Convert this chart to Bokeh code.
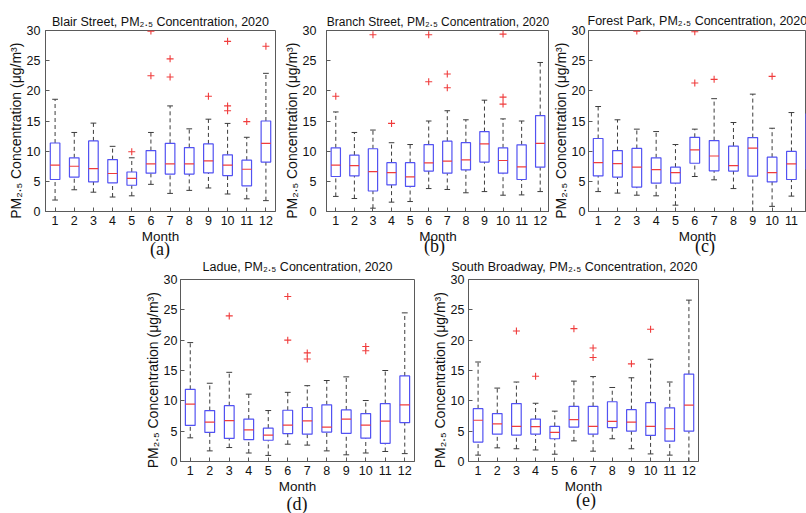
from bokeh.plotting import figure
from bokeh.layouts import row, column, Spacer
from bokeh.models import ColumnDataSource, FixedTicker, Title, Range1d, Div
from bokeh.transform import dodge
from bokeh.embed import file_html
from bokeh.resources import INLINE

months = [1, 2, 3, 4, 5, 6, 7, 8, 9, 10, 11, 12]
y_ticks = [0, 5, 10, 15, 20, 25, 30]

# ---- (a) Blair Street ----
blair_low = [1.9, 3.6, 3.2, 2.4, 2.6, 4.5, 3.0, 3.5, 3.9, 2.9, 2.1, 1.8]
blair_q1 = [5.3, 5.7, 4.9, 4.75, 4.35, 6.35, 6.2, 6.2, 6.4, 5.95, 4.25, 8.2]
blair_med = [7.7, 7.5, 7.1, 6.3, 5.5, 7.9, 7.9, 7.9, 8.4, 7.7, 7.0, 11.3]
blair_q3 = [11.35, 8.9, 11.7, 8.6, 6.55, 10.1, 11.3, 10.6, 11.2, 9.4, 8.5, 15.0]
blair_high = [18.6, 13.1, 14.65, 10.8, 8.9, 13.1, 17.5, 13.7, 15.3, 14.6, 12.3, 22.9]
blair_out_month = [5, 6, 6, 7, 7, 9, 10, 10, 10, 11, 12]
blair_out_value = [9.9, 22.5, 29.9, 25.3, 22.3, 19.1, 28.2, 17.5, 16.7, 14.9, 27.4]

# ---- (b) Branch Street ----
branch_low = [2.5, 2.15, 0.55, 1.55, 1.65, 3.8, 3.65, 3.1, 3.3, 2.7, 2.75, 3.3]
branch_q1 = [5.8, 5.9, 3.4, 4.4, 4.15, 6.7, 6.35, 6.9, 8.2, 6.35, 5.3, 7.35]
branch_med = [7.7, 7.6, 6.6, 6.45, 5.75, 8.05, 8.35, 8.55, 11.2, 8.45, 7.4, 11.3]
branch_q3 = [10.55, 9.35, 10.4, 8.1, 8.1, 11.1, 11.65, 11.4, 13.25, 10.55, 11.05, 15.9]
branch_high = [16.5, 13.1, 13.5, 11.4, 11.1, 15.0, 16.7, 15.2, 18.45, 15.35, 15.0, 24.7]
branch_out_month = [1, 3, 4, 6, 6, 7, 7, 10, 10, 10]
branch_out_value = [19.1, 29.3, 14.6, 21.5, 29.3, 20.5, 22.8, 18.95, 17.8, 29.4]

# ---- (c) Forest Park ----
forest_low = [3.3, 3.05, 2.7, 2.6, 1.05, 5.8, 5.25, 3.8, 0.0, 0.85, 2.55, 2.5]
forest_q1 = [5.9, 5.7, 4.05, 4.7, 4.7, 8.0, 6.75, 6.7, 5.85, 4.9, 5.3, 7.0]
forest_med = [8.1, 7.95, 7.35, 6.95, 6.45, 10.2, 9.2, 7.6, 10.5, 6.45, 7.9, 12.25]
forest_q3 = [12.1, 10.1, 10.45, 8.9, 7.35, 12.3, 11.75, 10.85, 12.25, 9.0, 9.95, 16.2]
forest_high = [17.4, 15.2, 13.65, 13.25, 11.1, 13.65, 18.7, 14.75, 19.45, 13.8, 16.4, 20.0]
forest_out_month = [3, 6, 6, 7, 10, 12]
forest_out_value = [29.9, 21.3, 29.8, 21.9, 22.4, 23.4]

# ---- (d) Ladue ----
ladue_low = [3.9, 1.75, 2.3, 1.4, 1.0, 2.85, 2.7, 1.75, 1.1, 1.4, 1.65, 1.3]
ladue_q1 = [5.95, 4.8, 3.8, 3.6, 3.5, 4.6, 4.5, 4.85, 4.65, 3.85, 3.0, 6.4]
ladue_med = [9.45, 6.5, 6.75, 5.2, 4.35, 6.0, 6.7, 5.65, 7.0, 6.0, 6.65, 9.35]
ladue_q3 = [11.9, 8.4, 9.2, 7.0, 5.5, 8.45, 8.9, 9.35, 8.5, 7.9, 9.55, 14.1]
ladue_high = [19.6, 12.9, 14.7, 11.1, 8.4, 11.4, 12.5, 13.35, 13.95, 10.05, 15.0, 24.5]
ladue_out_month = [3, 6, 6, 7, 7, 10, 10]
ladue_out_value = [24.0, 20.0, 27.2, 17.9, 16.9, 18.95, 18.25]

# ---- (e) South Broadway ----
south_low = [1.05, 2.25, 2.1, 1.9, 1.2, 3.4, 1.7, 3.75, 2.1, 1.25, 1.05, 0.0]
south_q1 = [3.2, 4.5, 4.35, 4.5, 3.75, 5.65, 4.5, 5.6, 5.0, 4.3, 3.35, 5.0]
south_med = [6.8, 6.2, 5.8, 5.75, 4.8, 6.9, 5.8, 6.6, 6.5, 5.8, 5.4, 9.3]
south_q3 = [8.7, 7.9, 9.55, 7.0, 5.8, 9.1, 9.1, 9.85, 8.55, 9.7, 8.85, 14.4]
south_high = [16.4, 12.1, 13.1, 9.6, 8.3, 13.25, 14.0, 12.2, 13.8, 16.85, 13.1, 26.6]
south_out_month = [3, 4, 6, 7, 7, 9, 10]
south_out_value = [21.5, 14.05, 21.9, 18.7, 17.15, 16.1, 21.8]

BOX = "#5252f2"
MED = "#f03c3c"
WHISK = "#3c3c3c"
AXIS = "#5a5a5a"
FONT = "Liberation Sans"
PM = "PM\u2082.\u2085"
NB = "\u00a0"


def panel(title, low, q1, med, q3, high, out_m, out_v,
          width, height, bl, br, bt, bb, x_end=12.5,
          tick_standoff=5, title_standoff=4, title_size="12.5px",
          title_align="center", title_offset=0):
    p = figure(width=width, height=height, output_backend="svg",
               toolbar_location=None, x_range=Range1d(0.5, x_end),
               y_range=Range1d(0, 30), min_border_left=bl,
               min_border_right=br, min_border_top=bt, min_border_bottom=bb)
    p.outline_line_color = AXIS
    p.grid.visible = False
    p.border_fill_color = None
    p.background_fill_color = "white"

    src = ColumnDataSource(dict(m=months, low=low, q1=q1, med=med,
                                q3=q3, high=high))
    p.segment(x0="m", x1="m", y0="q3", y1="high", source=src,
              line_color=WHISK, line_dash="4 3", line_width=1)
    p.segment(x0="m", x1="m", y0="low", y1="q1", source=src,
              line_color=WHISK, line_dash="4 3", line_width=1)
    for col in ("high", "low"):
        p.segment(x0=dodge("m", -0.15, range=p.x_range),
                  x1=dodge("m", 0.15, range=p.x_range),
                  y0=col, y1=col, source=src, line_color=WHISK, line_width=1)
    p.vbar(x="m", width=0.5, bottom="q1", top="q3", source=src,
           fill_color="white", line_color=BOX, line_width=1.2)
    p.segment(x0=dodge("m", -0.25, range=p.x_range),
              x1=dodge("m", 0.25, range=p.x_range),
              y0="med", y1="med", source=src, line_color=MED, line_width=1.2)
    p.scatter(x=out_m, y=out_v, marker="cross", size=7, line_color=MED,
              line_width=1.1)

    ax = p.xaxis[0]
    ax.ticker = FixedTicker(ticks=months)
    ax.axis_label = "Month"
    ay = p.yaxis[0]
    ay.ticker = FixedTicker(ticks=y_ticks)
    ay.axis_label = PM + " Concentration (\u03bcg/m\u00b3)" + NB * 5
    ay.major_label_standoff = tick_standoff
    ax.major_label_standoff = 4
    for a in (ax, ay):
        a.major_tick_in = 4
        a.major_tick_out = 0
        a.minor_tick_line_color = None
        a.axis_line_color = AXIS
        a.major_tick_line_color = AXIS
        a.major_label_text_font = FONT
        a.major_label_text_font_size = "12.5px"
        a.major_label_text_color = "#111111"
        a.major_label_text_line_height = 1.0
        a.axis_label_text_font = FONT
        a.axis_label_text_font_style = "normal"
        a.axis_label_text_color = "#111111"
        a.axis_label_text_line_height = 1.0
    ax.axis_label_text_font_size = "13.5px"
    ax.axis_label_standoff = 1
    ay.axis_label_text_font_size = "14px"
    ay.axis_label_standoff = 0

    p.title = Title(text=title, align=title_align, offset=title_offset,
                    text_font=FONT, text_font_size=title_size,
                    text_font_style="normal", text_color="#111111",
                    standoff=title_standoff)
    return p


def caption(text, left, width, right, height, shift):
    div = Div(text='<span style="position:relative;top:%dpx">%s</span>' % (shift, text),
              width=width, height=height, margin=0,
              styles={"font-family": "Liberation Serif", "font-size": "18px",
                      "line-height": "%dpx" % height, "text-align": "center",
                      "color": "#111111", "overflow": "visible"})
    items = []
    if left:
        items.append(Spacer(width=left, height=height, margin=0))
    items.append(div)
    if right:
        items.append(Spacer(width=right, height=height, margin=0))
    return items


pa = panel("Blair Street, " + PM + " Concentration, 2020",
           blair_low, blair_q1, blair_med, blair_q3, blair_high,
           blair_out_month, blair_out_value,
           width=280, height=247, bl=45, br=5, bt=29, bb=36)
pb = panel("Branch Street, " + PM + " Concentration, 2020",
           branch_low, branch_q1, branch_med, branch_q3, branch_high,
           branch_out_month, branch_out_value,
           width=269, height=247, bl=40, br=0, bt=29, bb=36,
           tick_standoff=10, title_size="12px")
pc = panel("Forest Park, " + PM + " Concentration, 2020",
           forest_low, forest_q1, forest_med, forest_q3, forest_high,
           forest_out_month, forest_out_value,
           width=257, height=247, bl=36, br=0, bt=30, bb=35,
           x_end=11.78, tick_standoff=3, title_standoff=5,
           title_align="left", title_offset=-1)
pd_ = panel("Ladue, " + PM + " Concentration, 2020",
            ladue_low, ladue_q1, ladue_med, ladue_q3, ladue_high,
            ladue_out_month, ladue_out_value,
            width=288, height=247, bl=40, br=14, bt=30, bb=35,
            tick_standoff=3, title_standoff=11)
pe = panel("South Broadway, " + PM + " Concentration, 2020",
           south_low, south_q1, south_med, south_q3, south_high,
           south_out_month, south_out_value,
           width=277, height=247, bl=38, br=7, bt=30, bb=35,
           tick_standoff=4, title_standoff=12,
           title_align="left", title_offset=-17)

top_caps = (caption("(a)", 45, 230, 5, 2, 1)
            + caption("(b)", 40, 229, 0, 2, -2)
            + caption("(c)", 55, 202, 0, 2, -2))
bot_caps = ([Spacer(width=140, height=17, margin=0)]
            + caption("(d)", 40, 234, 14, 17, 0)
            + caption("(e)", 38 + 8, 232 - 8, 7, 17, -4))

layout = column(row(pa, pb, pc),
                row(*top_caps),
                row(Spacer(width=140, height=247, margin=0), pd_, pe),
                row(*bot_caps))

open("out.html", "w").write(file_html(layout, INLINE))
